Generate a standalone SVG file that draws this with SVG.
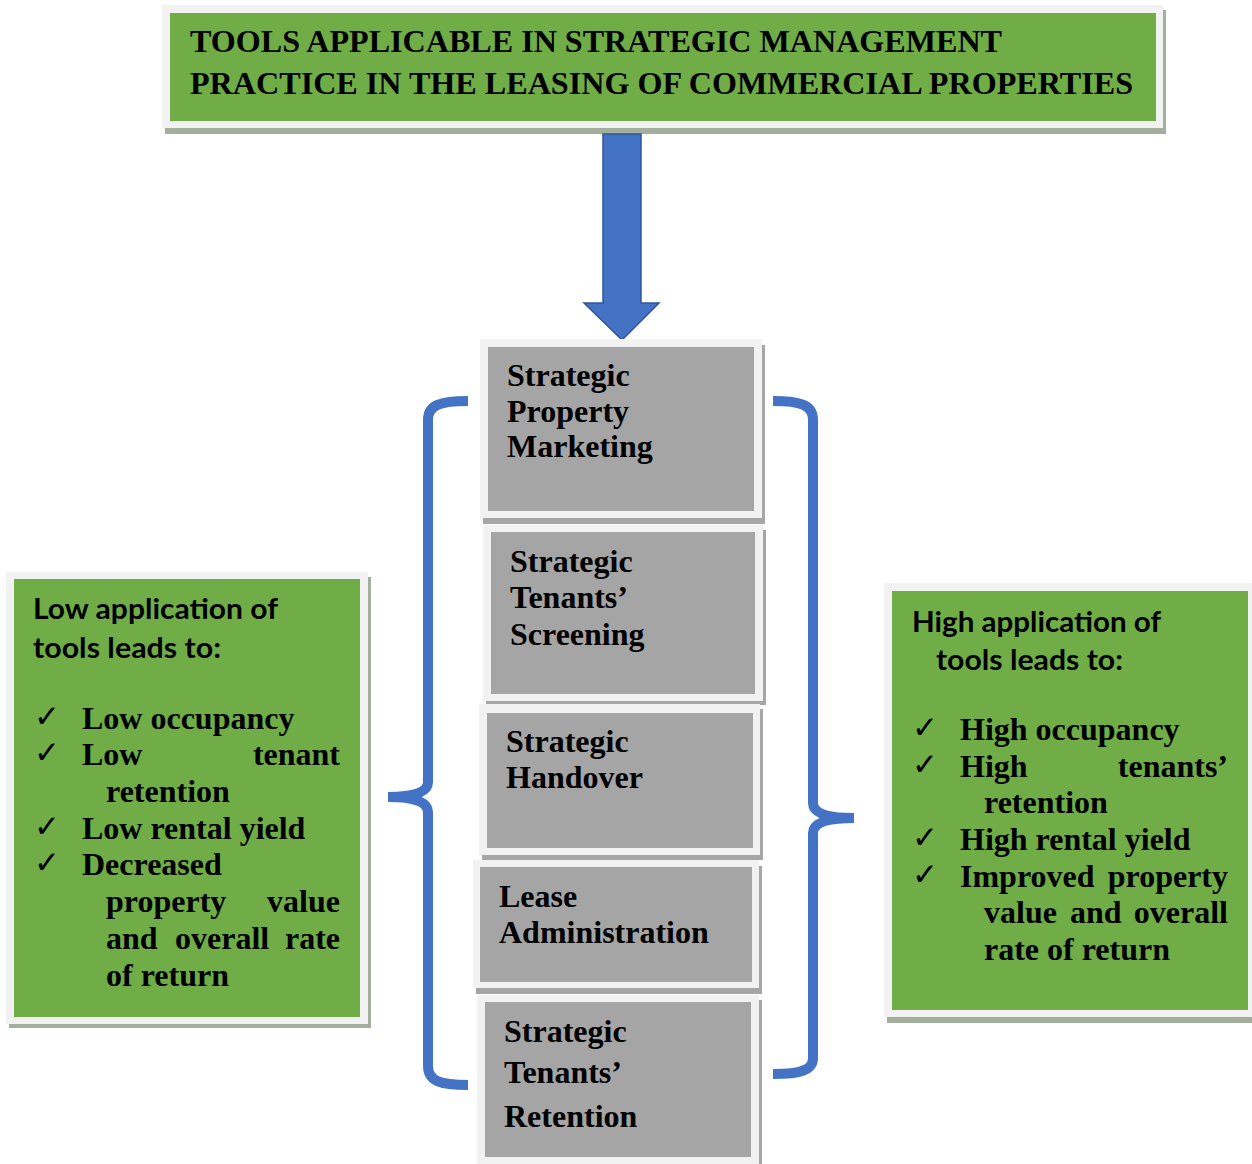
<svg xmlns="http://www.w3.org/2000/svg" width="1252" height="1164" viewBox="0 0 1252 1164">
  <style>
    .frame { fill: #f2f2f2; }
    .shadow-g { fill: #a4ae9c; }
    .shadow { fill: #a6a6a6; }
    .green { fill: #70ad47; }
    .grey { fill: #a5a5a5; }
    .serif { font-family: "Liberation Serif", "Times New Roman", serif; font-weight: bold; font-size: 32px; fill: #000; }
    .sans { font-family: Lato, "Open Sans", "Liberation Sans", sans-serif; font-weight: bold; font-size: 29px; fill: #000; }
    .tick { font-family: "DejaVu Sans", sans-serif; font-size: 31px; fill: #000; }
    .brace { fill: none; stroke: #4472c4; stroke-width: 10; stroke-linecap: butt; }
    .arrow { fill: #4472c4; stroke: #2f5597; stroke-width: 1.5; }
  </style>

  <!-- Title -->
  <g id="title">
    <rect class="shadow-g" x="165" y="10" width="1001" height="124"/>
    <rect class="frame" x="162" y="5" width="1001" height="123"/>
    <rect class="green" x="170" y="13" width="986" height="108"/>
    <text class="serif" x="190" y="52" textLength="812" lengthAdjust="spacingAndGlyphs">TOOLS APPLICABLE IN STRATEGIC MANAGEMENT</text>
    <text class="serif" x="190" y="94" textLength="943" lengthAdjust="spacingAndGlyphs">PRACTICE IN THE LEASING OF COMMERCIAL PROPERTIES</text>
  </g>

  <!-- Connectors: down arrow and braces -->
  <g id="connectors">
    <polygon class="arrow" points="603,134 641,134 641,303 659,303 622,340 584,303 603,303"/>
    <path class="brace" d="M468,401 C440,401 428,405 428,420 L428,782 C428,792 415,797 388,797"/>
    <path class="brace" d="M388,797 C415,797 428,802 428,812 L428,1066 C428,1081 440,1085 468,1085"/>
    <path class="brace" d="M773,401 C801,401 813,405 813,420 L813,803 C813,813 826,818 854,818"/>
    <path class="brace" d="M854,818 C826,818 813,823 813,833 L813,1058 C813,1070 801,1074 773,1074"/>
  </g>

  <!-- Tool boxes -->
  <g id="tool-marketing">
    <rect class="shadow" x="483" y="345" width="282" height="179"/>
    <rect class="frame" x="480" y="339" width="282" height="179"/>
    <rect class="grey" x="488" y="347" width="266" height="164"/>
    <text class="serif" x="507" y="386">Strategic</text>
    <text class="serif" x="507" y="422">Property</text>
    <text class="serif" x="507" y="457">Marketing</text>
  </g>

  <g id="tool-screening">
    <rect class="shadow" x="486" y="530" width="280" height="175"/>
    <rect class="frame" x="483" y="525" width="280" height="176"/>
    <rect class="grey" x="491" y="532" width="264" height="162"/>
    <text class="serif" x="510" y="572">Strategic</text>
    <text class="serif" x="510" y="608">Tenants’</text>
    <text class="serif" x="510" y="645">Screening</text>
  </g>

  <g id="tool-handover">
    <rect class="shadow" x="482" y="709" width="281" height="151"/>
    <rect class="frame" x="479" y="704" width="281" height="151"/>
    <rect class="grey" x="487" y="713" width="266" height="135"/>
    <text class="serif" x="506" y="752">Strategic</text>
    <text class="serif" x="506" y="788">Handover</text>
  </g>

  <g id="tool-lease-admin">
    <rect class="shadow" x="476" y="866" width="286" height="128"/>
    <rect class="frame" x="473" y="860" width="286" height="128"/>
    <rect class="grey" x="480" y="867" width="272" height="115"/>
    <text class="serif" x="499" y="907">Lease</text>
    <text class="serif" x="499" y="943">Administration</text>
  </g>

  <g id="tool-retention">
    <rect class="shadow" x="480" y="1000" width="282" height="170"/>
    <rect class="frame" x="477" y="995" width="282" height="175"/>
    <rect class="grey" x="485" y="1002" width="266" height="155"/>
    <text class="serif" x="504" y="1042">Strategic</text>
    <text class="serif" x="504" y="1083">Tenants’</text>
    <text class="serif" x="504" y="1127">Retention</text>
  </g>

  <!-- Low application outcomes -->
  <g id="low-application">
    <rect class="shadow-g" x="9" y="577" width="362" height="451"/>
    <rect class="frame" x="6" y="572" width="362" height="452"/>
    <rect class="green" x="14" y="579" width="346" height="438"/>
    <text class="sans" x="33" y="619" textLength="245" lengthAdjust="spacingAndGlyphs">Low application of</text>
    <text class="sans" x="33" y="658" textLength="188" lengthAdjust="spacingAndGlyphs">tools leads to:</text>
    <text class="tick" x="34" y="727">✓</text>
    <text class="tick" x="34" y="763">✓</text>
    <text class="tick" x="34" y="837">✓</text>
    <text class="tick" x="34" y="873">✓</text>
    <text class="serif" x="82" y="729">Low occupancy</text>
    <text class="serif" x="82" y="765">Low</text>
    <text class="serif" x="340" y="765" text-anchor="end">tenant</text>
    <text class="serif" x="106" y="802">retention</text>
    <text class="serif" x="82" y="839">Low rental yield</text>
    <text class="serif" x="82" y="875">Decreased</text>
    <text class="serif" x="106" y="912">property</text>
    <text class="serif" x="340" y="912" text-anchor="end">value</text>
    <text class="serif" x="106" y="949">and</text>
    <text class="serif" x="175" y="949">overall</text>
    <text class="serif" x="340" y="949" text-anchor="end">rate</text>
    <text class="serif" x="106" y="986">of return</text>
  </g>

  <!-- High application outcomes -->
  <g id="high-application">
    <rect class="shadow-g" x="887" y="589" width="370" height="434"/>
    <rect class="frame" x="884" y="583" width="372" height="434"/>
    <rect class="green" x="892" y="591" width="356" height="419"/>
    <text class="sans" x="912" y="632" textLength="249" lengthAdjust="spacingAndGlyphs">High application of</text>
    <text class="sans" x="936" y="670" textLength="187" lengthAdjust="spacingAndGlyphs">tools leads to:</text>
    <text class="tick" x="912" y="738">✓</text>
    <text class="tick" x="912" y="775">✓</text>
    <text class="tick" x="912" y="848">✓</text>
    <text class="tick" x="912" y="885">✓</text>
    <text class="serif" x="960" y="740">High occupancy</text>
    <text class="serif" x="960" y="777">High</text>
    <text class="serif" x="1228" y="777" text-anchor="end">tenants’</text>
    <text class="serif" x="984" y="813">retention</text>
    <text class="serif" x="960" y="850">High rental yield</text>
    <text class="serif" x="960" y="887">Improved</text>
    <text class="serif" x="1228" y="887" text-anchor="end">property</text>
    <text class="serif" x="984" y="923">value</text>
    <text class="serif" x="1070" y="923">and</text>
    <text class="serif" x="1228" y="923" text-anchor="end">overall</text>
    <text class="serif" x="984" y="960">rate of return</text>
  </g>
</svg>
